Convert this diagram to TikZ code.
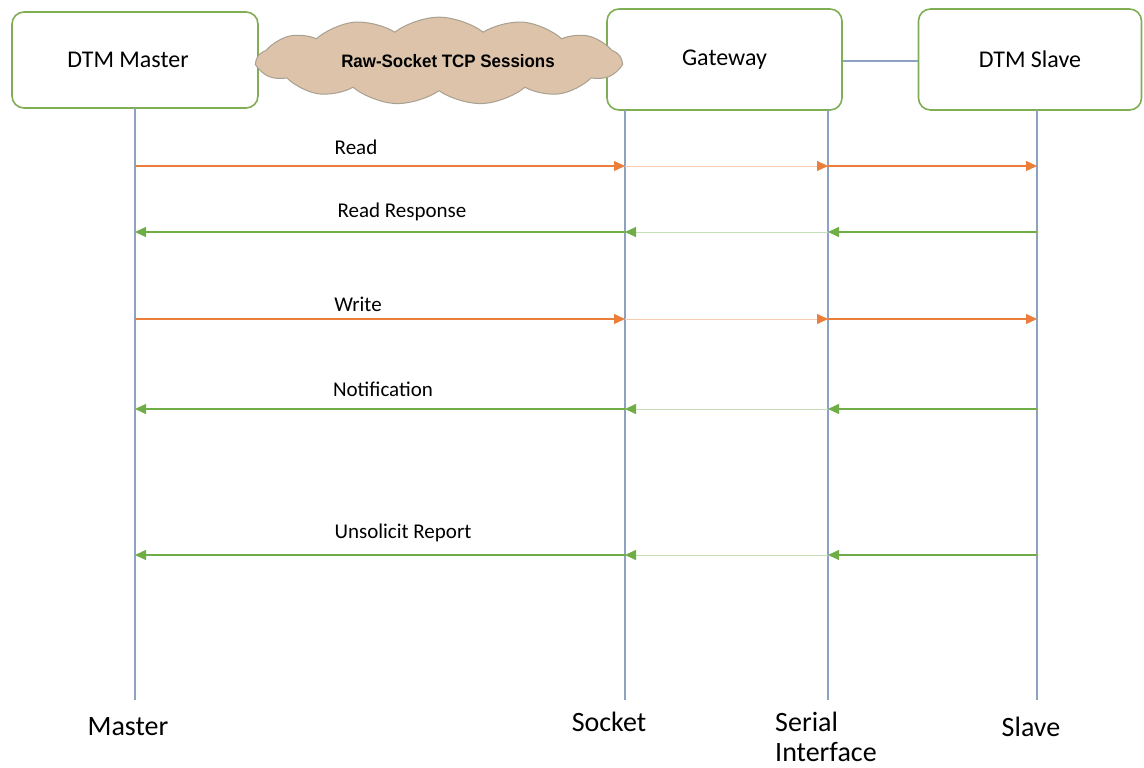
\documentclass[tikz,border=0pt]{standalone}
\usepackage{fontspec}
\setmainfont{Carlito}
\newfontfamily\arialfont{Liberation Sans}
\usetikzlibrary{arrows.meta,shapes.symbols}
\definecolor{boxgreen}{HTML}{7FAE55}
\definecolor{lifeblue}{HTML}{8DA2C3}
\definecolor{msgorange}{HTML}{EA7E3A}
\definecolor{msggreen}{HTML}{6FAD47}
\definecolor{cloudfill}{HTML}{DCC3AA}
\definecolor{cloudline}{HTML}{A8A090}
\begin{document}
\begin{tikzpicture}[x=1pt,y=-1pt,
  actor/.style={draw=boxgreen,line width=1.6pt,rounded corners=12pt,fill=white,
    font=\fontsize{24}{28}\selectfont,inner sep=0pt},
  life/.style={draw=lifeblue,line width=1.5pt},
  tip/.style={-{Triangle[length=11pt,width=10pt]}},
  req/.style={draw=msgorange,line width=1.2pt,tip},
  reqlight/.style={draw=msgorange!40,line width=0.8pt,-{Triangle[length=11pt,width=10pt,color=msgorange]}},
  resp/.style={draw=msggreen,line width=1.2pt,tip},
  resplight/.style={draw=msggreen!40,line width=0.8pt,-{Triangle[length=11pt,width=10pt,color=msggreen]}},
  msglabel/.style={font=\fontsize{21}{24}\selectfont,inner sep=0pt},
  endlabel/.style={font=\fontsize{28}{30}\selectfont,inner sep=0pt},
]
\useasboundingbox (0,0) rectangle (1144,768);

% actor boxes
\node[actor,minimum width=246pt,minimum height=96pt] (master) at (135,60) {\hspace*{-14pt}DTM Master};
\node[actor,minimum width=235pt,minimum height=101pt] (gw) at (724.5,59.5) {Gateway};
\node[actor,minimum width=223pt,minimum height=101pt] (slave) at (1030,59.5) {DTM Slave};

% link gateway - slave
\draw[life] ([yshift=-1.5pt]gw.east) -- ([yshift=-1.5pt]slave.west);

% cloud
\node[cloud,cloud puffs=13,cloud puff arc=75,aspect=5.2,draw=cloudline,fill=cloudfill,line width=1pt,
  minimum width=364pt,minimum height=70pt,inner sep=0pt,
  font=\arialfont\bfseries\fontsize{18}{21}\selectfont] (cloud) at (439,61) {\hspace*{18pt}\scalebox{0.94}[1]{Raw-Socket TCP Sessions}};

% lifeline coordinates
\coordinate (mT) at (135,108);
\coordinate (sT) at (625,110);
\coordinate (iT) at (828,110);
\coordinate (lT) at (1037,110);
\coordinate (mB) at (135,700);
\coordinate (sB) at (625,700);
\coordinate (iB) at (828,700);
\coordinate (lB) at (1037,700);
\draw[life] (mT) -- (mB);
\draw[life] (sT) -- (sB);
\draw[life] (iT) -- (iB);
\draw[life] (lT) -- (lB);

% message coordinates
\foreach \n/\y in {rd/166,rr/232,wr/319,nt/409,ur/555}{
  \coordinate (\n-m) at (135,\y);
  \coordinate (\n-s) at (625,\y);
  \coordinate (\n-i) at (828,\y);
  \coordinate (\n-l) at (1037,\y);
}

% Read
\draw[req] (rd-m) -- (rd-s);
\draw[reqlight] (rd-s) -- (rd-i);
\draw[req] (rd-i) -- (rd-l);
\node[msglabel] (lrd) at (356,147) {Read};
% Read Response
\draw[resp] (rr-l) -- (rr-i);
\draw[resplight] (rr-i) -- (rr-s);
\draw[resp] (rr-s) -- (rr-m);
\node[msglabel] (lrr) at (402,212) {Read Response};
% Write
\draw[req] (wr-m) -- (wr-s);
\draw[reqlight] (wr-s) -- (wr-i);
\draw[req] (wr-i) -- (wr-l);
\node[msglabel] (lwr) at (358,304) {Write};
% Notification
\draw[resp] (nt-l) -- (nt-i);
\draw[resplight] (nt-i) -- (nt-s);
\draw[resp] (nt-s) -- (nt-m);
\node[msglabel] (lnt) at (383,389) {Notification};
% Unsolicit Report
\draw[resp] (ur-l) -- (ur-i);
\draw[resplight] (ur-i) -- (ur-s);
\draw[resp] (ur-s) -- (ur-m);
\node[msglabel] (lur) at (403,533) {Unsolicit Report};

% bottom labels
\node[endlabel] (bm) at (128,727) {Master};
\node[endlabel] (bs) at (609,722) {Socket};
\node[endlabel,align=left,anchor=north west] (bi) at (775,712) {Serial\\[0pt]Interface};
\node[endlabel] (bl) at (1031,727) {Slave};
\end{tikzpicture}
\end{document}
